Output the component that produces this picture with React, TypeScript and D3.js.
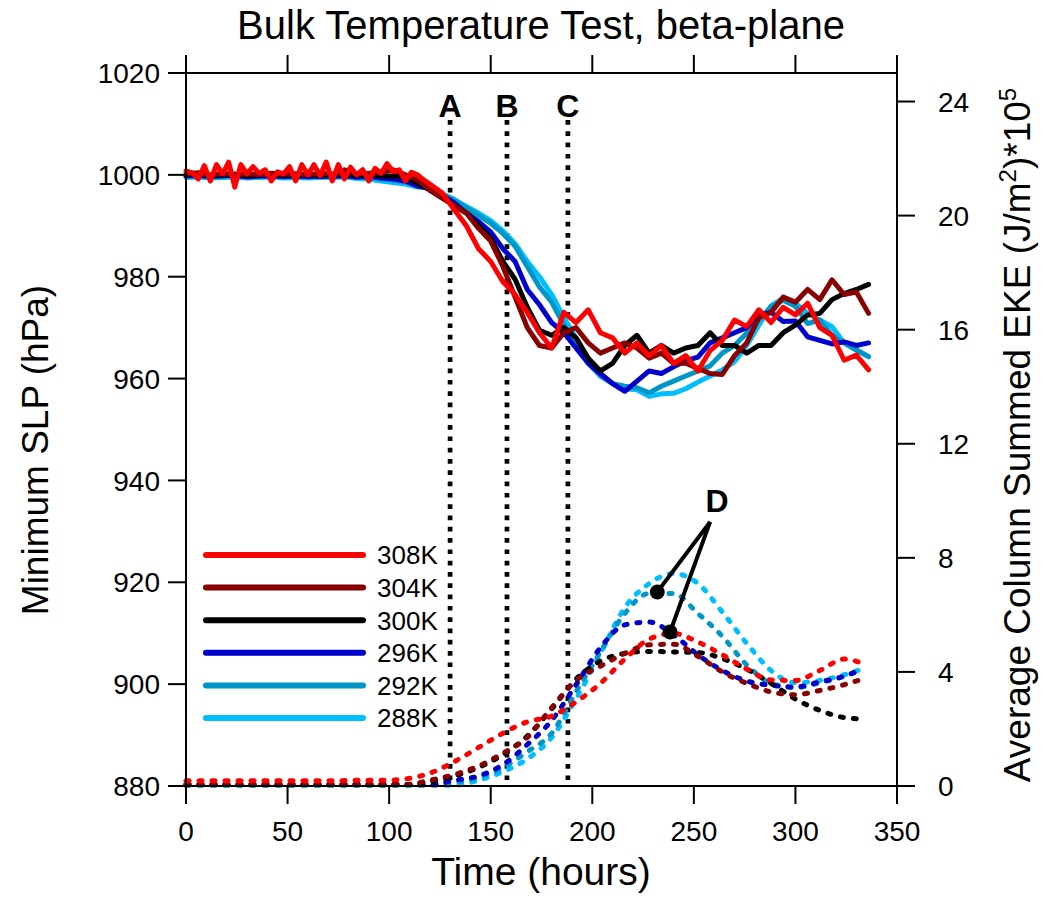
import React from 'react';
import * as d3 from 'd3';

// ---------- data ----------
const seriesLabels = ['308K', '304K', '300K', '296K', '292K', '288K'];
const seriesColors = ['#ff0000', '#880000', '#000000', '#0000cc', '#0096c8', '#00bfff'];

// time axes (hours)
const hours6 = d3.range(0, 337, 6);
const redHours = [...d3.range(0, 118, 3), ...d3.range(120, 337, 6)];
const ekeHours = [...d3.range(0, 325, 12), 333];

// Minimum SLP (hPa)
const slp308 = [
  1000.8, 1000.4, 999.2, 1001.8, 998.8, 1002.0, 1000.2, 1002.5, 997.6, 1002.0,
  1000.2, 1001.6, 1000.3, 1001.0, 998.8, 1000.6, 1000.2, 1001.6, 998.8, 1002.0,
  1000.0, 1002.0, 999.8, 1002.5, 998.8, 1002.0, 999.2, 1001.5, 1000.0, 1001.0,
  998.8, 1001.3, 1000.3, 1002.2, 1000.6, 1001.0, 998.8, 1000.5, 1000.0, 999.0,
  998.2, 996.5, 993.2, 990.0, 985.5, 983.0, 979.0, 976.5, 973.0, 969.0,
  966.0, 973.0, 971.0, 973.5, 969.0, 968.0, 965.0, 967.0, 964.5, 966.5,
  963.0, 964.5, 961.5, 965.5, 967.5, 971.5, 970.2, 973.5, 971.0, 974.0,
  972.5, 974.8, 970.0, 968.5, 963.6, 964.6, 961.7,
];
const slp304 = [
  1000.2, 1000.4, 1000.0, 1000.3, 1000.1, 1000.2, 1000.0, 1000.3, 1000.1, 1000.2,
  1000.0, 1000.3, 1000.1, 1001.0, 1000.2, 1000.3, 1000.5, 1001.0, 1000.0, 999.0,
  997.0, 995.5, 994.0, 992.5, 989.5, 987.0, 982.0, 976.0, 970.0, 966.5,
  966.0, 969.0, 970.0, 967.0, 965.0, 966.0, 967.0,
  966.0, 964.0, 965.0, 963.0, 963.0, 962.0, 961.0, 960.8, 964.5, 967.0,
  972.0, 973.0, 976.0, 975.0, 977.5, 975.5, 979.4, 976.5, 977.0, 972.8,
];
const slp300 = [
  1000.0, 1000.1, 999.9, 1000.0, 1000.1, 999.8, 1000.0, 1000.1, 999.9, 1000.0,
  1000.0, 999.9, 1000.0, 1000.1, 999.9, 1000.0, 999.8, 999.8, 999.5, 998.4,
  997.0, 995.5, 994.0, 992.5, 990.0, 987.5, 983.0, 979.5, 974.0, 969.5,
  968.5, 970.0, 968.0, 964.0, 961.5, 963.0, 966.5,
  968.5, 965.0, 966.5, 965.0, 966.0, 966.5, 969.0, 966.5, 966.5, 965.0,
  966.5, 966.5, 969.0, 970.5, 972.5, 972.8, 975.5, 976.7, 977.5, 978.5,
];
const slp296 = [
  999.8, 999.9, 999.7, 999.8, 999.9, 999.6, 999.8, 999.8, 999.7, 999.8,
  999.7, 999.7, 999.8, 999.8, 999.6, 999.7, 999.4, 999.2, 998.8, 997.8,
  997.3, 996.0, 994.5, 992.5, 990.8, 988.8, 985.5, 983.0, 977.5, 974.5,
  971.0, 969.0, 966.0, 963.0, 961.0, 959.0, 957.5,
  959.5, 961.5, 961.0, 962.3, 963.5, 964.2, 967.0, 968.0, 969.0, 970.0,
  972.5, 973.0, 971.2, 971.3, 968.2, 967.5, 966.8, 967.2, 966.5, 967.0,
];
const slp292 = [
  999.7, 999.8, 999.6, 999.7, 999.8, 999.6, 999.7, 999.8, 999.6, 999.7,
  999.6, 999.7, 999.7, 999.8, 999.5, 999.6, 999.2, 999.0, 998.6, 997.8,
  997.5, 996.2, 995.0, 993.5, 992.0, 990.5, 988.5, 986.0, 982.0, 978.0,
  975.0, 970.5, 967.0, 963.0, 960.5, 959.0, 958.5,
  958.2, 957.2, 958.5, 959.5, 960.5, 961.5, 962.5, 965.0, 966.5, 968.9,
  971.5, 974.1, 975.4, 974.2, 970.8, 971.5, 968.5, 967.0, 965.6, 964.3,
];
const slp288 = [
  999.5, 999.6, 999.4, 999.5, 999.6, 999.4, 999.5, 999.6, 999.4, 999.5,
  999.4, 999.5, 999.5, 999.6, 999.3, 999.2, 998.8, 998.5, 998.2, 997.6,
  997.5, 996.3, 995.2, 993.8, 992.5, 991.0, 989.0, 986.5, 983.0, 980.0,
  976.5, 972.0, 968.0, 964.0, 961.0, 959.0, 958.0,
  957.8, 956.5, 957.0, 957.1, 958.0, 959.3, 960.5, 961.7, 963.3, 966.5,
  970.5, 974.3, 975.8, 974.8, 972.8, 971.5, 970.2, 967.0, 965.6, 964.3,
];

// Average column summed EKE (J/m^2 * 1e5)
const eke308 = [
  0.18, 0.18, 0.18, 0.18, 0.18, 0.18, 0.18, 0.2, 0.2, 0.25, 0.45, 0.85, 1.35, 1.85,
  2.25, 2.45, 2.95, 3.6, 4.45, 5.15, 5.35, 5.05, 4.6, 4.1, 3.72, 3.7, 4.05, 4.45, 4.3,
];
const eke304 = [
  0.05, 0.05, 0.05, 0.05, 0.05, 0.05, 0.05, 0.05, 0.05, 0.05, 0.2, 0.4, 0.7, 1.15,
  1.7, 2.75, 3.7, 4.2, 4.65, 4.95, 4.97, 4.55, 4.0, 3.6, 3.3, 3.2, 3.35, 3.55, 3.75,
];
const eke300 = [
  0.05, 0.05, 0.05, 0.05, 0.05, 0.05, 0.05, 0.05, 0.05, 0.05, 0.15, 0.35, 0.65, 1.1,
  1.75, 2.7, 3.75, 4.38, 4.65, 4.72, 4.7, 4.68, 4.47, 4.1, 3.6, 3.05, 2.65, 2.4, 2.35,
];
const eke296 = [
  0.05, 0.05, 0.05, 0.05, 0.05, 0.05, 0.05, 0.05, 0.05, 0.05, 0.05, 0.2, 0.35, 0.75,
  1.45, 2.3, 3.55, 4.85, 5.65, 5.75, 5.3, 4.6, 4.05, 3.68, 3.53, 3.47, 3.65, 3.85, 4.1,
];
const eke292 = [
  0.03, 0.03, 0.03, 0.03, 0.03, 0.03, 0.03, 0.03, 0.03, 0.03, 0.03, 0.12, 0.3, 0.65,
  1.2, 1.85, 3.3, 4.7, 6.05, 6.75, 6.75, 6.05, 5.25, 4.25, 3.6, 3.45, 3.62, 3.85, 4.1,
];
const eke288 = [
  0.03, 0.03, 0.03, 0.03, 0.03, 0.03, 0.03, 0.03, 0.03, 0.03, 0.03, 0.03, 0.2, 0.5,
  0.95, 1.7, 3.05, 4.65, 6.25, 7.1, 7.45, 7.1, 6.1, 5.0, 4.05, 3.62, 3.7, 3.9, 4.1,
];

const xTicks = [0, 50, 100, 150, 200, 250, 300, 350];
const yLeftTicks = [880, 900, 920, 940, 960, 980, 1000, 1020];
const yRightTicks = [0, 4, 8, 12, 16, 20, 24];

const markerHours = [130, 158, 188];
const markerLabels = ['A', 'B', 'C'];

// annotation D: apex and the two marked points (hours, EKE)
const dApex = { t: 258, v: 9.26 };
const dPoints = [
  { t: 232, v: 6.8 },
  { t: 238.3, v: 5.4 },
];
const dLabel = { t: 261.4, v: 9.6, text: 'D' };

const FONT = '"Liberation Sans", Arial, Helvetica, sans-serif';

export default function App() {
  const x = d3.scaleLinear().domain([0, 350]).range([186, 897]);
  const yL = d3.scaleLinear().domain([880, 1020]).range([786, 73]);
  const yR = d3.scaleLinear().domain([0, 25]).range([786, 73]);

  const slpSeries = [
    { hours: redHours, values: slp308 },
    { hours: hours6, values: slp304 },
    { hours: hours6, values: slp300 },
    { hours: hours6, values: slp296 },
    { hours: hours6, values: slp292 },
    { hours: hours6, values: slp288 },
  ];
  const ekeSeries = [eke308, eke304, eke300, eke296, eke292, eke288];

  const slpPath = (hours: number[], values: number[]) =>
    d3
      .line<number>()
      .x((_, i) => x(hours[i]))
      .y((d) => yL(d))(values) || '';
  const ekePath = (values: number[]) =>
    d3
      .line<number>()
      .curve(d3.curveMonotoneX)
      .x((_, i) => x(ekeHours[i]))
      .y((d) => yR(d))(values) || '';

  const drawOrder = [5, 4, 3, 2, 1, 0];

  const [x0, x1] = x.range();
  const yTop = yL(1020);
  const yBot = yL(880);
  const tickLen = 18;

  const legendY = d3.scaleLinear().domain([0, 5]).range([555, 718]);

  return (
    <svg
      width={1044}
      height={917}
      style={{ position: 'absolute', left: 0, top: 0, background: '#fff' }}
      fontFamily={FONT}
    >
      <rect x={0} y={0} width={1044} height={917} fill="#fff" />

      {/* title */}
      <text x={541} y={39} fontSize={40} textAnchor="middle" fill="#000">
        Bulk Temperature Test, beta-plane
      </text>

      {/* vertical dotted markers */}
      {markerHours.map((h, i) => (
        <g key={'m' + i}>
          <line
            x1={x(h)}
            x2={x(h)}
            y1={120}
            y2={781}
            stroke="#000"
            strokeWidth={4.7}
            strokeDasharray="4.7,6.6"
          />
          <text
            x={x(h)}
            y={117}
            fontSize={32}
            fontWeight="bold"
            textAnchor="middle"
            fill="#000"
          >
            {markerLabels[i]}
          </text>
        </g>
      ))}

      {/* EKE dashed curves */}
      {drawOrder.map((k) => (
        <path
          key={'e' + k}
          d={ekePath(ekeSeries[k])}
          fill="none"
          stroke={seriesColors[k]}
          strokeWidth={5}
          strokeLinecap="round"
          strokeDasharray="3,10"
        />
      ))}

      {/* SLP solid curves */}
      {drawOrder.map((k) => (
        <path
          key={'s' + k}
          d={slpPath(slpSeries[k].hours, slpSeries[k].values)}
          fill="none"
          stroke={seriesColors[k]}
          strokeWidth={5}
          strokeLinejoin="round"
          strokeLinecap="round"
        />
      ))}

      {/* D annotation */}
      {dPoints.map((p, i) => (
        <g key={'d' + i}>
          <line
            x1={x(dApex.t)}
            y1={yR(dApex.v)}
            x2={x(p.t)}
            y2={yR(p.v)}
            stroke="#000"
            strokeWidth={4}
          />
          <circle cx={x(p.t)} cy={yR(p.v)} r={7.5} fill="#000" />
        </g>
      ))}
      <text
        x={x(dLabel.t)}
        y={yR(dLabel.v)}
        fontSize={32}
        fontWeight="bold"
        textAnchor="middle"
        fill="#000"
      >
        {dLabel.text}
      </text>

      {/* legend */}
      {seriesLabels.map((lab, i) => (
        <g key={'l' + i}>
          <line
            x1={206}
            x2={363}
            y1={legendY(i)}
            y2={legendY(i)}
            stroke={seriesColors[i]}
            strokeWidth={6}
            strokeLinecap="round"
          />
          <text x={377} y={legendY(i)} dy="0.36em" fontSize={26} fill="#000">
            {lab}
          </text>
        </g>
      ))}

      {/* frame */}
      <rect x={x0} y={yTop} width={x1 - x0} height={yBot - yTop} fill="none" stroke="#000" strokeWidth={2} />

      {/* x ticks */}
      {xTicks.map((t) => (
        <g key={'xt' + t}>
          <line x1={x(t)} x2={x(t)} y1={yBot} y2={yBot + tickLen} stroke="#000" strokeWidth={2} />
          <line x1={x(t)} x2={x(t)} y1={yTop} y2={yTop - tickLen} stroke="#000" strokeWidth={2} />
          <text x={x(t)} y={841} fontSize={28} textAnchor="middle" fill="#000">
            {t}
          </text>
        </g>
      ))}

      {/* left ticks */}
      {yLeftTicks.map((v) => (
        <g key={'yl' + v}>
          <line x1={x0 - tickLen} x2={x0} y1={yL(v)} y2={yL(v)} stroke="#000" strokeWidth={2} />
          <text x={160} y={yL(v)} dy="0.36em" fontSize={28} textAnchor="end" fill="#000">
            {v}
          </text>
        </g>
      ))}

      {/* right ticks */}
      {yRightTicks.map((v) => (
        <g key={'yr' + v}>
          <line x1={x1} x2={x1 + tickLen} y1={yR(v)} y2={yR(v)} stroke="#000" strokeWidth={2} />
          <text x={938} y={yR(v)} dy="0.36em" fontSize={28} textAnchor="start" fill="#000">
            {v}
          </text>
        </g>
      ))}

      {/* axis titles */}
      <text x={541} y={885} fontSize={39} textAnchor="middle" fill="#000">
        Time (hours)
      </text>
      <text
        transform="translate(48,450) rotate(-90)"
        fontSize={37}
        textAnchor="middle"
        fill="#000"
      >
        Minimum SLP (hPa)
      </text>
      <text
        transform="translate(1030,435) rotate(-90)"
        fontSize={37}
        textAnchor="middle"
        fill="#000"
      >
        Average Column Summed EKE (J/m
        <tspan dy={-14} fontSize={24}>2</tspan>
        <tspan dy={14}>)*10</tspan>
        <tspan dy={-14} fontSize={24}>5</tspan>
      </text>
    </svg>
  );
}
